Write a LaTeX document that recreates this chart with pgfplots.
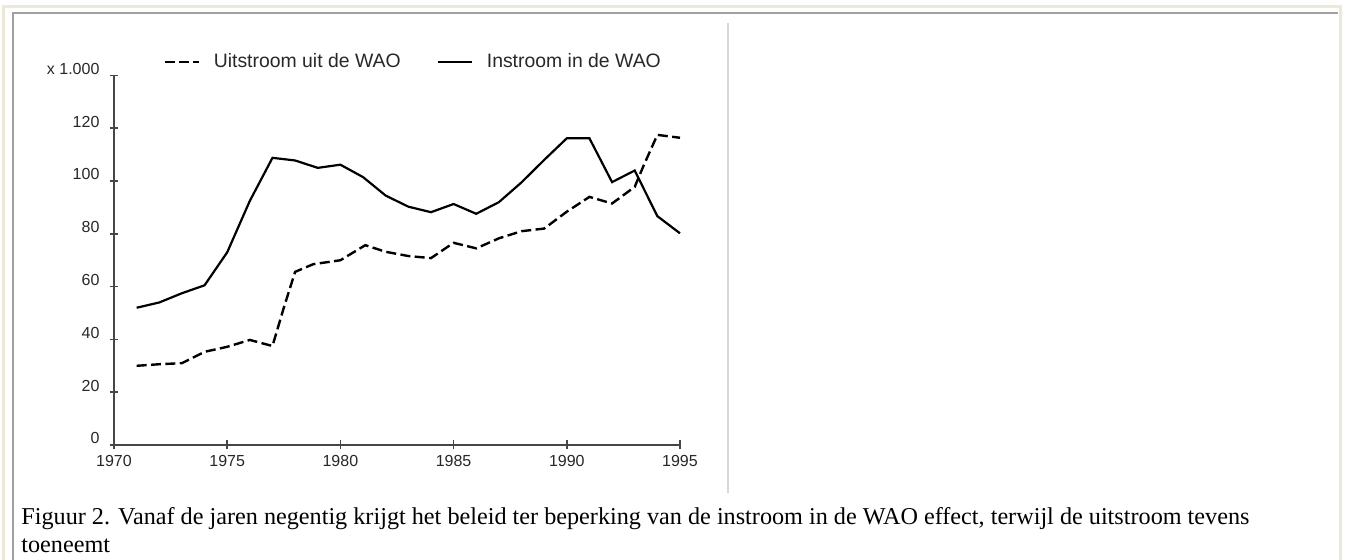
\documentclass[border=0pt]{standalone}
\usepackage{fontspec}
\setmainfont{Liberation Serif}
\newfontfamily\arial{Liberation Sans}
\usepackage{pgfplots}
\pgfplotsset{compat=1.18}
\definecolor{beige}{RGB}{236,233,216}
\definecolor{framegray}{RGB}{160,160,160}
\definecolor{sepgray}{RGB}{216,216,216}
\definecolor{axisgray}{RGB}{70,70,70}
\definecolor{labelgray}{RGB}{40,40,40}
\begin{document}
\begin{tikzpicture}
\useasboundingbox (0,0) rectangle (673pt,280pt);
\fill[white] (0,0) rectangle (673pt,280pt);
\draw[beige, line width=1.5pt] (1.5pt,0) -- (1.5pt,276.5pt) -- (670pt,276.5pt) -- (670pt,0);
\draw[framegray, line width=1pt] (6.25pt,0) -- (6.25pt,273.5pt) -- (669pt,273.5pt);
\draw[sepgray, line width=1pt] (364pt,33.5pt) -- (364pt,268.5pt);
\node[anchor=base west, inner sep=0pt, font=\fontsize{12.1}{14}\selectfont] at (10.5pt,17.5pt) {Figuur 2. Vanaf de jaren negentig krijgt het beleid ter beperking van de instroom in de WAO effect, terwijl de uitstroom tevens};
\node[anchor=base west, inner sep=0pt, font=\fontsize{12.1}{14}\selectfont] at (10.5pt,3.5pt) {toeneemt};
\begin{axis}[
  scale only axis, width=283pt, height=184.75pt,
  at={(57pt,57.5pt)}, anchor=south west,
  xmin=1970, xmax=1995, ymin=0, ymax=140,
  axis lines=left, axis line style={-, draw=axisgray, line width=1.3pt},
  xtick={1970,1975,1980,1985,1990,1995},
  xticklabels={1970,1975,1980,1985,1990,1995},
  ytick={0,20,40,60,80,100,120,140},
  yticklabels={0,20,40,60,80,100,120,x 1.000},
  tick align=center, major tick length=4.5pt,
  tick style={draw=axisgray, line width=0.8pt},
  ticklabel style={font=\arial\fontsize{8}{9.5}\selectfont, text=labelgray},
  yticklabel style={xshift=-1.5pt, yshift=3.3pt},
  xticklabel style={yshift=0.5pt},
  clip=false,
  legend columns=2,
  legend style={draw=none, fill=none, inner sep=0pt,
    at={(axis description cs:0.0866,1.037)}, anchor=west,
    font=\arial\fontsize{9.7}{11}\selectfont, text=labelgray,
    /tikz/every odd column/.append style={column sep=5pt},
    /tikz/every even column/.append style={column sep=16pt}},
  legend image code/.code={\draw[#1] (0pt,0pt) -- (17pt,0pt);},
]
\addplot[black, line width=1.2pt, dash pattern=on 5pt off 2.2pt] coordinates {
(1971,30) (1972,30.6) (1973,31) (1974,35.3) (1975,37.2) (1976,39.8) (1977,37.5)
(1977.5,52) (1978,65.6) (1978.8,68.5) (1980,70) (1981.1,75.7) (1982,73.2)
(1983,71.6) (1984,70.8) (1985,76.6) (1986,74.5) (1987,78.3) (1988,81) (1989,82)
(1990,88.4) (1991,94) (1992,91.5) (1993,97.8) (1993.4,106) (1994,117.5) (1995,116.4)
};
\addlegendentry{Uitstroom uit de WAO}
\addplot[black, line width=1.1pt] coordinates {
(1971,52) (1972,54) (1973,57.5) (1974,60.5) (1975,73) (1976,92.5) (1977,108.8)
(1978,107.8) (1979,105) (1980,106.2) (1981,101.5) (1982,94.5) (1983,90.3)
(1984,88.2) (1985,91.3) (1986,87.6) (1987,92) (1988,99.5) (1989,108)
(1990,116.2) (1991,116.2) (1992,99.6) (1993,104) (1994,86.7) (1995,80.2)
};
\addlegendentry{Instroom in de WAO}
\end{axis}
\end{tikzpicture}
\end{document}
